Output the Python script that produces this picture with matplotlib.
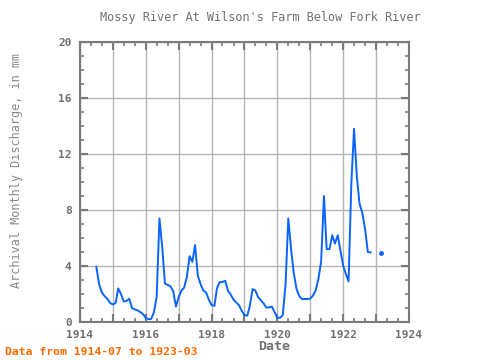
import numpy as np
import pandas as pd
import matplotlib
matplotlib.use("Agg")
import matplotlib.pyplot as plt
import matplotlib.dates as mdates
import matplotlib.ticker as mticker

start_month = "1914-07"
end_month = "1923-03"
discharge = [
    3.95, 2.7, 2.1, 1.85, 1.65, 1.36, 1.25, 1.36, 2.4, 2.0, 1.47, 1.5,
    1.66, 1.0, 0.9, 0.83, 0.71, 0.57, 0.28, 0.2, 0.22, 0.7, 1.8, 7.4,
    5.4, 2.75, 2.65, 2.55, 2.2, 1.1, 1.8, 2.25, 2.45, 3.2, 4.7, 4.3,
    5.5, 3.3, 2.7, 2.25, 2.1, 1.6, 1.2, 1.15, 2.4, 2.85, 2.85, 2.95,
    2.25, 1.95, 1.6, 1.4, 1.2, 0.8, 0.5, 0.45, 1.15, 2.35, 2.25, 1.78,
    1.55, 1.33, 1.02, 1.05, 1.1, 0.7, 0.3, 0.3, 0.5, 2.7, 7.4, 5.2,
    3.5, 2.35, 1.83, 1.64, 1.64, 1.64, 1.68, 1.9, 2.26, 3.1, 4.35, 9.0,
    5.2, 5.2, 6.2, 5.6, 6.2, 5.1, 4.0, 3.4, 2.9, 9.9, 13.8, 10.4,
    8.45, 7.8, 6.6, 5.0, 4.97, np.nan, np.nan, np.nan, 4.95,
]
title = "Mossy River At Wilson's Farm Below Fork River"
y_label = "Archival Monthly Discharge, in mm"
x_label = "Date"
note = "Data from 1914-07 to 1923-03"
y_ticks = [0, 4, 8, 12, 16, 20]
x_tick_years = [1914, 1916, 1918, 1920, 1922, 1924]

dates = pd.date_range(start_month, end_month, freq="MS")
series = pd.Series(discharge, index=dates)

mono = "DejaVu Sans Mono"
gray = "#707070"
blue = "#0a64ff"

fig = plt.figure(figsize=(4.8, 3.6), dpi=100)
ax = fig.add_axes([80/480, 1-322/360, 329/480, 280/360])

ax.plot(series.index, series.values, color=blue, lw=1.4, zorder=3)
# isolated points (neighbors missing)
vals = series.values
iso = [i for i in range(len(vals)) if not np.isnan(vals[i])
       and (i == 0 or np.isnan(vals[i-1])) and (i == len(vals)-1 or np.isnan(vals[i+1]))]
ax.plot(series.index[iso], vals[iso], "o", color=blue, ms=2.5, zorder=3)

ax.set_xlim(pd.Timestamp("1914-01-01"), pd.Timestamp("1924-01-01"))
ax.set_ylim(0, 20)

ax.xaxis.set_major_locator(mdates.YearLocator(1))
ax.xaxis.set_minor_locator(mdates.MonthLocator(bymonth=[5, 9]))
ax.xaxis.set_major_formatter(mticker.FuncFormatter(
    lambda v, p: (str(mdates.num2date(v).year) if mdates.num2date(v).year in x_tick_years else "")))
ax.yaxis.set_major_locator(mticker.FixedLocator(y_ticks))
ax.yaxis.set_minor_locator(mticker.MultipleLocator(1))

ax.grid(True, which="major", color="#b4b4b4", lw=1.0, zorder=0)
for s in ax.spines.values():
    s.set_color("#7a7a7a")
    s.set_linewidth(1.5)
ax.tick_params(which="both", direction="in", top=True, right=True, color="#7a7a7a")
ax.tick_params(which="major", length=6, width=1.5, labelsize=8, labelcolor=gray, pad=6)
ax.tick_params(which="minor", length=3, width=1.2)
for lbl in ax.get_xticklabels() + ax.get_yticklabels():
    lbl.set_family(mono)
    lbl.set_fontweight("bold")

fig.text(260/480, 1-18/360, title, ha="center", va="center", family=mono,
         fontsize=8.6, color=gray)
fig.text(17/480, 1-170/360, y_label, ha="center", va="center", rotation=90,
         family=mono, fontsize=8.5, color="#8a8a8a")
fig.text(274/480, 1-347/360, x_label, ha="center", va="center", family=mono,
         fontsize=9.5, fontweight="bold", color=gray)
fig.text(5/480, 1-352/360, note, ha="left", va="center", family=mono,
         fontsize=8.2, fontweight="bold", color="#ff6a00")

fig.savefig("out.png", dpi=100)
